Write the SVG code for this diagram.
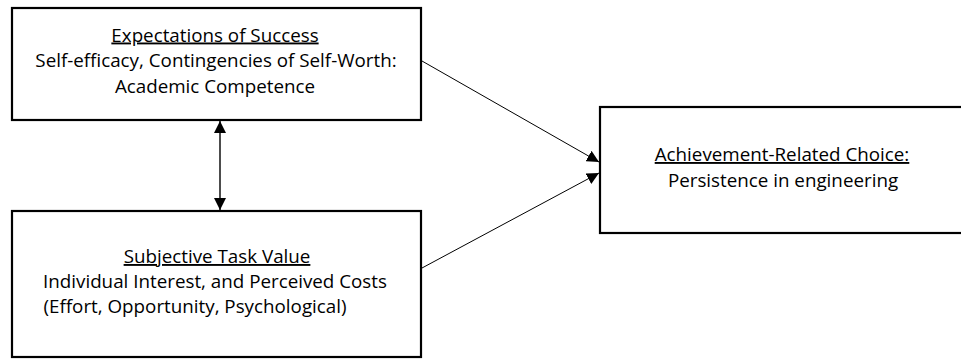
<svg xmlns="http://www.w3.org/2000/svg" width="961" height="360" viewBox="0 0 961 360">
<style>
.box{fill:#fff;stroke:#000;stroke-width:2.2}
.t{font-family:"Open Sans","Noto Sans","Liberation Sans",sans-serif;font-size:18.8px;fill:#000;text-anchor:middle}
.u{text-decoration:underline}
.c{stroke:#000;fill:none}
</style>
<defs>
<marker id="ah" viewBox="0 0 12 12" refX="12" refY="6" markerWidth="12" markerHeight="12" markerUnits="userSpaceOnUse" orient="auto-start-reverse">
<path d="M0,0 L12,6 L0,12 z" fill="#000"/>
</marker>
</defs>
<rect width="961" height="360" fill="#fff"/>
<g id="connectors">
<line class="c" x1="220" y1="121" x2="220" y2="210" stroke-width="1.4" marker-start="url(#ah)" marker-end="url(#ah)"/>
<line class="c" x1="422" y1="61" x2="599" y2="162" stroke-width="1" marker-end="url(#ah)"/>
<line class="c" x1="422" y1="268" x2="599" y2="173" stroke-width="1" marker-end="url(#ah)"/>
</g>
<g id="expectations">
<rect class="box" x="12" y="8" width="409" height="112"/>
<text class="t u" x="215" y="41.5">Expectations of Success</text>
<text class="t" x="216" y="67">Self-efficacy, Contingencies of Self-Worth:</text>
<text class="t" x="215" y="92.5">Academic Competence</text>
</g>
<g id="value">
<rect class="box" x="12" y="211" width="409" height="146"/>
<text class="t u" x="217" y="263">Subjective Task Value</text>
<text class="t" x="215" y="288">Individual Interest, and Perceived Costs</text>
<text class="t" x="195" y="313">(Effort, Opportunity, Psychological)</text>
</g>
<g id="choice">
<rect class="box" x="600" y="107" width="380" height="126"/>
<text class="t u" x="782" y="161">Achievement-Related Choice:</text>
<text class="t" x="783" y="187">Persistence in engineering</text>
</g>
</svg>
